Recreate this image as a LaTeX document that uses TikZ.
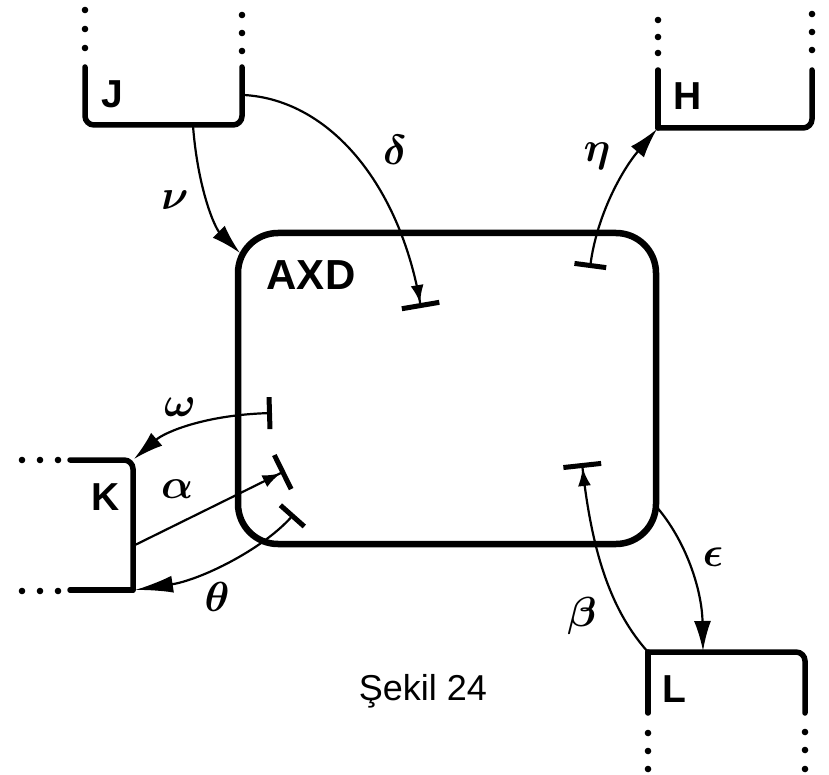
\documentclass[tikz,border=0pt]{standalone}
\usepackage{fontspec}
\usepackage{bm}
\setmainfont{Liberation Sans}
\usetikzlibrary{arrows.meta}
\begin{document}
\begin{tikzpicture}[x=1pt,y=-1pt,
  cont/.style={line width=5.5pt, line cap=round, rounded corners=9pt},
  wire/.style={line width=2.2pt},
  tipA/.style={-{Latex[length=30pt,width=17pt]}},
  tipAB/.style={-{Latex[length=18pt,width=13pt]Bar[width=38pt,line width=5pt]}},
  tipBA/.style={{Bar[width=32pt,line width=5pt]}-{Latex[length=30pt,width=17pt]}},
  greek/.style={scale=4.2, inner sep=0pt},
  letter/.style={font=\bfseries\fontsize{39}{44}\selectfont, anchor=base, inner sep=0pt},
]
\useasboundingbox (0,0) rectangle (829,775);
% main box
\node[draw, line width=6.5pt, rounded corners=40pt, minimum width=418pt,
      minimum height=311pt, inner sep=0pt] (axd) at (447,388.5) {};
\node[letter, font=\bfseries\fontsize{42}{46}\selectfont] (axdlabel) at (311,290) {AXD};
% containers
\draw[cont] (85,67) -- (85,125) -- (242,125) -- (242,67);
\draw[cont] (658,70) -- (658,128);
\draw[cont] (658,128) -- (812,128) -- (812,70);
\draw[cont] (648,713) -- (648,652);
\draw[cont] (648,652) -- (805,652) -- (805,713);
\draw[cont] (70,460) -- (133,460) -- (133,590);
\draw[cont] (133,590) -- (70,590);
% dots
\foreach \y in {10,29,48} {\fill (85,\y) circle (3.3pt);}
\foreach \y in {15,33,51} {\fill (242,\y) circle (3.3pt);}
\foreach \y in {20,37,53} {\fill (658,\y) circle (3.3pt);}
\foreach \y in {14,32,50} {\fill (812,\y) circle (3.3pt);}
\foreach \y in {733,751,769} {\fill (648,\y) circle (3.3pt);}
\foreach \y in {732,750,769} {\fill (805,\y) circle (3.3pt);}
\foreach \x in {22,40,58} {\fill (\x,460) circle (3.3pt); \fill (\x,591) circle (3.3pt);}
% container labels
\node[letter] (J) at (112,108) {J};
\node[letter] (H) at (688,110) {H};
\node[letter] (K) at (106,510) {K};
\node[letter] (L) at (674,702) {L};
% ports
\coordinate (Jb) at (193,126);
\coordinate (Jr) at (244,95);
\coordinate (Hc) at (657,129);
\coordinate (Kt) at (134,459);
\coordinate (Km) at (135,545);
\coordinate (Kb) at (135,590);
\coordinate (Lc) at (648,652);
\coordinate (Lt) at (703,651);
\coordinate (axdNW) at (240,253);
\coordinate (axdE) at (655,505);
\coordinate (dEnd) at (421,308);
\coordinate (hBar) at (590,268);
\coordinate (wBar) at (272,413);
\coordinate (aBar) at (285,471);
\coordinate (tBar) at (294,514);
\coordinate (bBar) at (582,463);
% connectors
\draw[wire, tipA] (Jb) .. controls (198,190) and (215,228) .. (axdNW);
\draw[wire, tipAB] (Jr) .. controls (330,100) and (400,185) .. (dEnd);
\draw[wire, tipBA] (hBar) .. controls (597,215) and (622,170) .. (Hc);
\draw[wire, tipBA] (wBar) .. controls (205,415) and (165,432) .. (Kt);
\draw[wire, tipAB] (Km) -- (aBar);
\draw[wire, {Bar[width=32pt,line width=5pt]}-{Latex[length=38pt,width=17pt]}] (tBar) .. controls (262,550) and (200,580) .. (Kb);
\draw[wire, tipAB] (Lc) .. controls (612,612) and (592,555) .. (bBar);
\draw[wire, tipA] (axdE) .. controls (686,540) and (702,590) .. (Lt);
% greek labels
\node[greek] (nu) at (175,200) {$\bm{\nu}$};
\node[greek] (delta) at (395,150) {$\bm{\delta}$};
\node[greek] (eta) at (597,156) {$\bm{\eta}$};
\node[greek] (omega) at (180,407) {$\bm{\omega}$};
\node[greek] (alpha) at (177,489) {$\bm{\alpha}$};
\node[greek] (theta) at (217,597) {$\bm{\theta}$};
\node[greek] (beta) at (582,616) {$\bm{\beta}$};
\node[greek] (eps) at (713,557) {$\bm{\epsilon}$};
% caption
\node[font=\fontsize{36}{40}\selectfont, anchor=base, inner sep=0pt] (cap) at (423,700) {Şekil 24};
\end{tikzpicture}
\end{document}
